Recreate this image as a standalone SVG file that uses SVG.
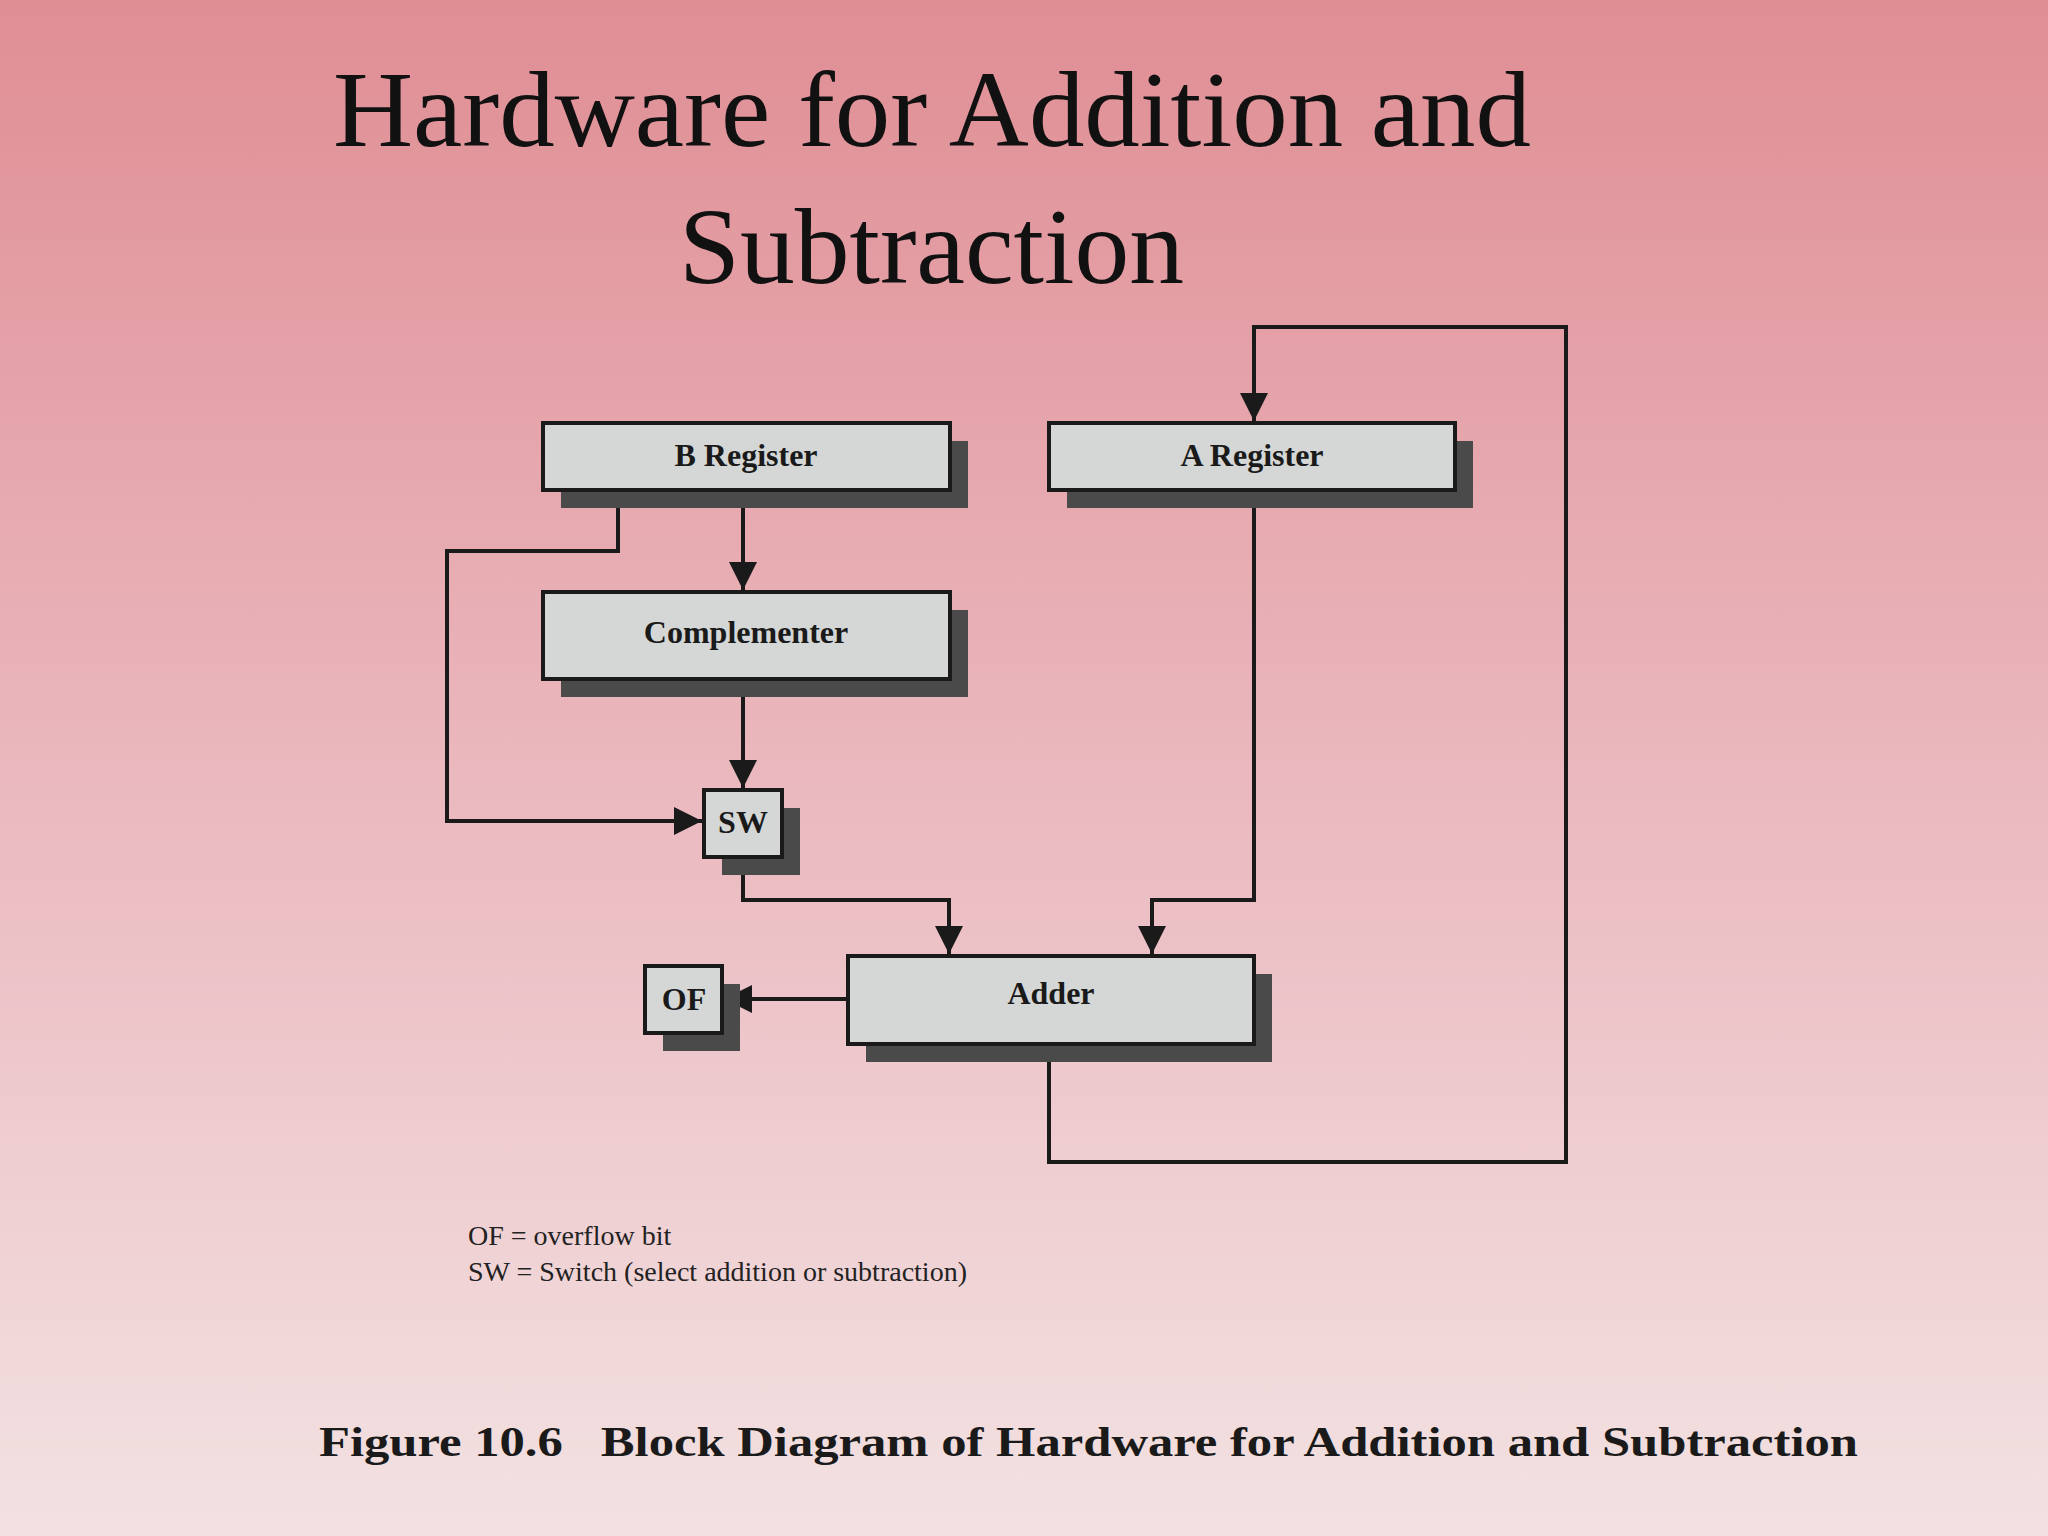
<svg xmlns="http://www.w3.org/2000/svg" width="2048" height="1536" viewBox="0 0 2048 1536">
<defs>
<linearGradient id="bg" x1="0" y1="0" x2="0" y2="1">
<stop offset="0" stop-color="#df8e94"/>
<stop offset="0.55" stop-color="#ebbcc2"/>
<stop offset="1" stop-color="#f3e2e2"/>
</linearGradient>
<marker id="ah" viewBox="0 0 10 10" refX="10" refY="5" markerWidth="10" markerHeight="10" markerUnits="userSpaceOnUse" orient="auto">
<path d="M0,0 L10,5 L0,10 z" fill="#1a1a1a"/>
</marker>
<marker id="a" viewBox="0 0 10 10" refX="10" refY="5" markerWidth="30" markerHeight="28" markerUnits="userSpaceOnUse" orient="auto">
<path d="M0,0 L10,5 L0,10 z" fill="#1a1a1a"/>
</marker>
</defs>
<style>
.sh{fill:#4a4a4a}
.bx{fill:#d4d7d6;stroke:#1a1a1a;stroke-width:4}
.lb{font-family:"Liberation Serif",serif;font-weight:bold;font-size:32px;fill:#1a1a1a;text-anchor:middle}
.ln{fill:none;stroke:#1a1a1a;stroke-width:4}
.t{font-family:"Liberation Serif",serif;font-size:108px;fill:#111}
.lg{font-family:"Liberation Serif",serif;font-size:28px;fill:#222}
</style>
<rect width="2048" height="1536" fill="url(#bg)"/>
<text class="t" x="333" y="146" textLength="1198" lengthAdjust="spacingAndGlyphs">Hardware for Addition and</text>
<text class="t" x="679" y="283" textLength="505" lengthAdjust="spacingAndGlyphs">Subtraction</text>
<g id="connectors">
<path class="ln" d="M743,490 V590" marker-end="url(#a)"/>
<path class="ln" d="M618,490 V551 H447 V821 H702" marker-end="url(#a)"/>
<path class="ln" d="M743,679 V788" marker-end="url(#a)"/>
<path class="ln" d="M743,857 V900 H949 V954" marker-end="url(#a)"/>
<path class="ln" d="M1254,490 V900 H1152 V954" marker-end="url(#a)"/>
<path class="ln" d="M848,999 H724" marker-end="url(#a)"/>
<path class="ln" d="M1049,1044 V1162 H1566 V327 H1254 V421" marker-end="url(#a)"/>
</g>
<g id="breg"><rect class="sh" x="561" y="441" width="407" height="67"/><rect class="bx" x="543" y="423" width="407" height="67"/><text class="lb" x="746" y="466">B Register</text></g>
<g id="areg"><rect class="sh" x="1067" y="441" width="406" height="67"/><rect class="bx" x="1049" y="423" width="406" height="67"/><text class="lb" x="1252" y="466">A Register</text></g>
<g id="comp"><rect class="sh" x="561" y="610" width="407" height="87"/><rect class="bx" x="543" y="592" width="407" height="87"/><text class="lb" x="746" y="643">Complementer</text></g>
<g id="sw"><rect class="sh" x="722" y="808" width="78" height="67"/><rect class="bx" x="704" y="790" width="78" height="67"/><text class="lb" x="743" y="833">SW</text></g>
<g id="adder"><rect class="sh" x="866" y="974" width="406" height="88"/><rect class="bx" x="848" y="956" width="406" height="88"/><text class="lb" x="1051" y="1004">Adder</text></g>
<g id="of"><rect class="sh" x="663" y="984" width="77" height="67"/><rect class="bx" x="645" y="966" width="77" height="67"/><text class="lb" x="684" y="1010">OF</text></g>
<text class="lg" x="468" y="1245">OF = overflow bit</text>
<text class="lg" x="468" y="1281">SW = Switch (select addition or subtraction)</text>
<text x="319" y="1456" font-family="Liberation Serif,serif" font-weight="bold" font-size="42" fill="#1a1a1a" textLength="1539" lengthAdjust="spacingAndGlyphs" xml:space="preserve">Figure 10.6   Block Diagram of Hardware for Addition and Subtraction</text>
</svg>
